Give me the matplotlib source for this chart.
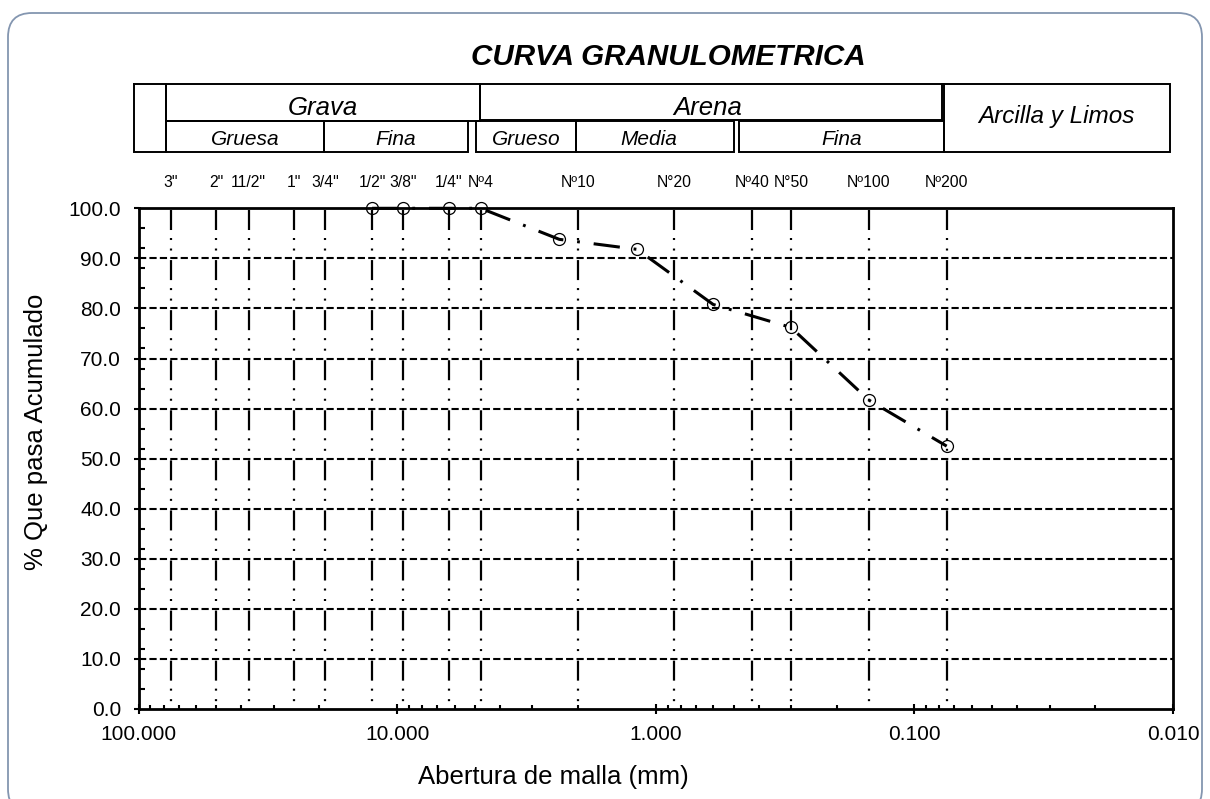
import matplotlib
matplotlib.use("Agg")
import matplotlib.pyplot as plt
from matplotlib.ticker import LogLocator, MultipleLocator, FuncFormatter, NullFormatter
from matplotlib.patches import FancyBboxPatch

plt.rcParams['font.family'] = ['Liberation Sans', 'DejaVu Sans']
plt.rcParams['lines.scale_dashes'] = False

# ---- data ----
sieve_labels = ['3"', '2"', '11/2"', '1"', '3/4"', '1/2"', '3/8"', '1/4"', 'Nº4',
                'Nº10', 'N°20', 'Nº40', 'N°50', 'Nº100', 'Nº200']
sieve_mm = [75, 50, 37.5, 25, 19, 12.5, 9.5, 6.3, 4.75, 2.0, 0.85, 0.425, 0.3, 0.15, 0.075]
opening_mm = [12.5, 9.5, 6.3, 4.75, 2.36, 1.18, 0.6, 0.3, 0.15, 0.075]
passing = [100.0, 100.0, 100.0, 100.0, 93.8, 91.8, 80.8, 76.2, 61.7, 52.5]
x_ticks = [100, 10, 1, 0.1, 0.01]
y_ticks = [0, 10, 20, 30, 40, 50, 60, 70, 80, 90, 100]

title = "CURVA GRANULOMETRICA"
xlabel = "Abertura de malla (mm)"
ylabel = "% Que pasa Acumulado"

W, H = 1210, 799
fig = plt.figure(figsize=(W / 100, H / 100), dpi=100)
fig.patch.set_facecolor('white')

# overlay in pixel coordinates for frame / header
ov = fig.add_axes([0, 0, 1, 1], zorder=0)
ov.set_xlim(0, W)
ov.set_ylim(H, 0)
ov.axis('off')

frame = FancyBboxPatch((8, 13), 1194, 800, boxstyle="round,pad=0,rounding_size=24",
                       fc='white', ec='#8496b0', lw=1.3, zorder=0)
ov.add_patch(frame)

# ---- main axes ----
L, R, T, B = 138.5, 1173, 208.3, 709
ax = fig.add_axes([L / W, 1 - B / H, (R - L) / W, (B - T) / H], zorder=2)
ax.set_facecolor('none')
ax.set_xscale('log')
ax.set_xlim(100, 0.01)
ax.set_ylim(0, 100)

for s in ax.spines.values():
    s.set_linewidth(2.0)
    s.set_color('black')

# horizontal grid lines
for v in y_ticks[1:-1]:
    ax.axhline(v, color='black', lw=1.5, ls=(0, (5.2, 2.3)), zorder=1)

# vertical sieve lines (dash-dot-dot)
vpat = (34.6, (14.4, 5.76, 1.44, 6.12, 1.44, 6.89))
for d in sieve_mm:
    ax.plot([d, d], [100, 0], color='black', lw=1.6, ls=vpat, zorder=1)

# data curve
ax.plot(opening_mm, passing, color='black', lw=2.2, ls=(0, (19, 10, 2, 10)),
        marker='o', mfc='none', mec='black', ms=8.6, mew=0.9, clip_on=False, zorder=5)

# ticks
ax.set_xticks(x_ticks)
ax.xaxis.set_minor_locator(LogLocator(base=10, subs=[2, 3, 4, 5, 6, 7, 8, 9], numticks=10))
ax.xaxis.set_major_formatter(FuncFormatter(lambda v, p: f"{v:.3f}"))
ax.xaxis.set_minor_formatter(NullFormatter())
ax.set_yticks(y_ticks)
ax.yaxis.set_minor_locator(MultipleLocator(4))
ax.yaxis.set_major_formatter(FuncFormatter(lambda v, p: f"{v:.1f}"))

ax.tick_params(axis='x', which='major', direction='inout', length=7, width=1.5, pad=8, labelsize=15)
ax.tick_params(axis='x', which='minor', direction='in', length=3, width=1.5)
ax.tick_params(axis='y', which='major', direction='out', length=3.6, width=1.5, pad=9, labelsize=15)
ax.tick_params(axis='y', which='minor', direction='in', length=4, width=1.5)

# ---- texts ----
fig.text(668 / W, 1 - 65 / H, title, fontsize=21.3, fontweight='bold', fontstyle='italic',
         ha='center', va='baseline')
fig.text(553 / W, 1 - 777 / H, xlabel, fontsize=18.5, ha='center', va='center')
fig.text(36 / W, 1 - 432 / H, ylabel, fontsize=18.5, ha='center', va='center', rotation=90)

# sieve labels above the chart, placed at sieve positions
for lab, d in zip(sieve_labels, sieve_mm):
    ax.annotate(lab, xy=(d, 1), xycoords=('data', 'axes fraction'),
                xytext=(0, (T - 186.7) * 0.72), textcoords='offset points',
                ha='center', va='baseline', fontsize=11.3, annotation_clip=False)

# ---- header table (pixel layout) ----
def box(x0, y0, x1, y1, lw=1.4):
    ov.plot([x0, x1, x1, x0, x0], [y0, y0, y1, y1, y0], color='black', lw=lw,
            solid_joinstyle='miter', zorder=3)

box(134, 84, 166, 152)
box(166, 84, 480, 121)
box(166, 121, 324, 152)
box(324, 121, 468, 152)
box(476, 121, 576, 152)
box(576, 121, 734, 152)
box(739, 121, 944, 152)
box(480, 84, 941.7, 120)
box(944, 84, 1170, 152)
ov.plot([941.7, 944], [84, 84], color='black', lw=1.4, zorder=3)

hdr = [("Grava", 323, 115, 18.5), ("Arena", 708, 115, 18.5),
       ("Gruesa", 245, 145, 15), ("Fina", 396, 145, 15),
       ("Grueso", 526, 145, 15), ("Media", 649, 145, 15),
       ("Fina", 842, 145, 15), ("Arcilla y Limos", 1056, 123.3, 17.5)]
for txt, x, y, fs in hdr:
    ov.text(x, y, txt, fontsize=fs, fontstyle='italic', ha='center', va='baseline', zorder=4)

fig.savefig("out.png", dpi=100)
